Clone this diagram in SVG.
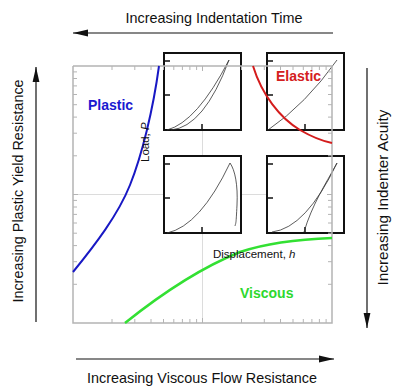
<svg xmlns="http://www.w3.org/2000/svg" width="400" height="392" viewBox="0 0 400 392">
<style>
.t{font-family:"Liberation Sans",Arial,sans-serif;fill:#111}
.big{font-size:14.4px}
.sm{font-size:11.5px}
.lab{font-family:"Liberation Sans",Arial,sans-serif;font-weight:bold;font-size:14px}
.grid{stroke:#dcdcdc;stroke-width:1;fill:none}
.axis{stroke:#b4b4b4;stroke-width:1.5;fill:none}
.tick{stroke:#b4b4b4;stroke-width:1;fill:none}
.box{fill:#fff;stroke:#111;stroke-width:2}
.btick{stroke:#111;stroke-width:1.5}
.ic{fill:none;stroke:#333;stroke-width:0.8}
.arr{fill:none;stroke:#111;stroke-width:1.2}
</style>
<defs>
<marker id="ah" viewBox="0 0 15 8" refX="15" refY="4" markerWidth="15" markerHeight="8" orient="auto" markerUnits="userSpaceOnUse">
<path d="M0,0.6 L15,4 L0,7.4 z" fill="#111"/>
</marker>
</defs>

<g id="grid">
<line class="grid" x1="73" y1="194.5" x2="332" y2="194.5"/>
<line class="grid" x1="202.5" y1="66" x2="202.5" y2="323"/>
</g>

<g id="inset-tl">
<rect class="box" x="164" y="53" width="77" height="77"/>
<path class="btick" d="M164,61h6M164,95h6M202,130v-6"/>
<path class="ic" d="M167,130 Q197,122 229,60"/>
<path class="ic" d="M171,130 Q204,127 229,60"/>
</g>
<g id="inset-tr">
<rect class="box" x="267" y="53" width="77" height="77"/>
<path class="btick" d="M267,61h6M267,95h6M305,130v-6"/>
<path class="ic" d="M268,130 Q306,104 337,60"/>
</g>
<g id="inset-bl">
<rect class="box" x="164" y="156" width="77" height="77"/>
<path class="btick" d="M164,164h6M164,198h6M202,233v-6"/>
<path class="ic" d="M167,233 Q200,226 230,163"/>
<path class="ic" d="M230,163 C235,170 238,185 237,205 S236,222 235,226"/>
</g>
<g id="inset-br">
<rect class="box" x="267" y="156" width="77" height="77"/>
<path class="btick" d="M267,164h6M267,198h6M305,233v-6"/>
<path class="ic" d="M272,232 Q306,228 337,163"/>
<path class="ic" d="M337,163 C325,185 312,205 304,232"/>
</g>

<g id="axes">
<path class="axis" d="M73,66 V323 H332 V66 H73"/>
<path class="tick" d="M73,284.3h4M73,261.7h4M73,245.6h4M73,233.2h4M73,223h4M73,214.4h4M73,207h4M73,200.4h4M73,194.5h5M73,155.8h4M73,133.2h4M73,117.1h4M73,104.7h4M73,94.5h4M73,85.9h4M73,78.5h4M73,71.9h4"/>
<path class="tick" d="M332,284.3h-4M332,261.7h-4M332,245.6h-4M332,233.2h-4M332,223h-4M332,214.4h-4M332,207h-4M332,200.4h-4M332,194.5h-5M332,155.8h-4M332,133.2h-4M332,117.1h-4M332,104.7h-4M332,94.5h-4M332,85.9h-4M332,78.5h-4M332,71.9h-4"/>
<path class="tick" d="M112,323v-4M134.8,323v-4M151,323v-4M163.5,323v-4M173.8,323v-4M182.4,323v-4M189.9,323v-4M196.6,323v-4M202.5,323v-5M241.5,323v-4M264.3,323v-4M280.5,323v-4M293,323v-4M303.3,323v-4M311.9,323v-4M319.4,323v-4M326.1,323v-4"/>
<path class="tick" d="M112,66v4M134.8,66v4M151,66v4M163.5,66v4M173.8,66v4M182.4,66v4M189.9,66v4M196.6,66v4M202.5,66v5M241.5,66v4M264.3,66v4M280.5,66v4M293,66v4M303.3,66v4M311.9,66v4M319.4,66v4M326.1,66v4"/>
</g>

<g id="curves">
<path id="plastic-curve" d="M73,272 C95,245 118,215 130,185 C142,155 153,110 159,66" fill="none" stroke="#1818c4" stroke-width="2"/>
<path id="viscous-curve" d="M125,323 C160,295 200,268 240,252 C270,242 305,239 332,238" fill="none" stroke="#33e033" stroke-width="2.5"/>
<path id="elastic-curve" d="M253,66 C262,95 280,118 300,130 C312,137 322,141 332,143" fill="none" stroke="#d41c1c" stroke-width="2"/>
</g>

<g id="labels">
<text class="lab" x="88" y="110" fill="#1a1ad0">Plastic</text>
<text class="lab" x="276" y="81" fill="#d42020">Elastic</text>
<text class="lab" x="240" y="298" fill="#2ed82e">Viscous</text>
<text class="t sm" transform="translate(149,162) rotate(-90)">Load, <tspan font-style="italic">P</tspan></text>
<text class="t sm" x="213" y="258">Displacement, <tspan font-style="italic">h</tspan></text>
</g>

<g id="connectors">
<line class="arr" x1="333" y1="33" x2="73" y2="33" marker-end="url(#ah)"/>
<line class="arr" x1="76" y1="359" x2="334" y2="359" marker-end="url(#ah)"/>
<line class="arr" x1="36" y1="322" x2="36" y2="67" stroke="#555" marker-end="url(#ah)"/>
<line class="arr" x1="367" y1="68" x2="367" y2="328" stroke="#555" marker-end="url(#ah)"/>
</g>

<g id="axis-titles">
<text class="t big" x="214" y="23" text-anchor="middle">Increasing Indentation Time</text>
<text class="t big" x="202" y="383" text-anchor="middle">Increasing Viscous Flow Resistance</text>
<text class="t big" transform="translate(23,191) rotate(-90)" text-anchor="middle">Increasing Plastic Yield Resistance</text>
<text class="t" style="font-size:15.3px" transform="translate(388,197.5) rotate(-90)" text-anchor="middle">Increasing Indenter Acuity</text>
</g>
</svg>
